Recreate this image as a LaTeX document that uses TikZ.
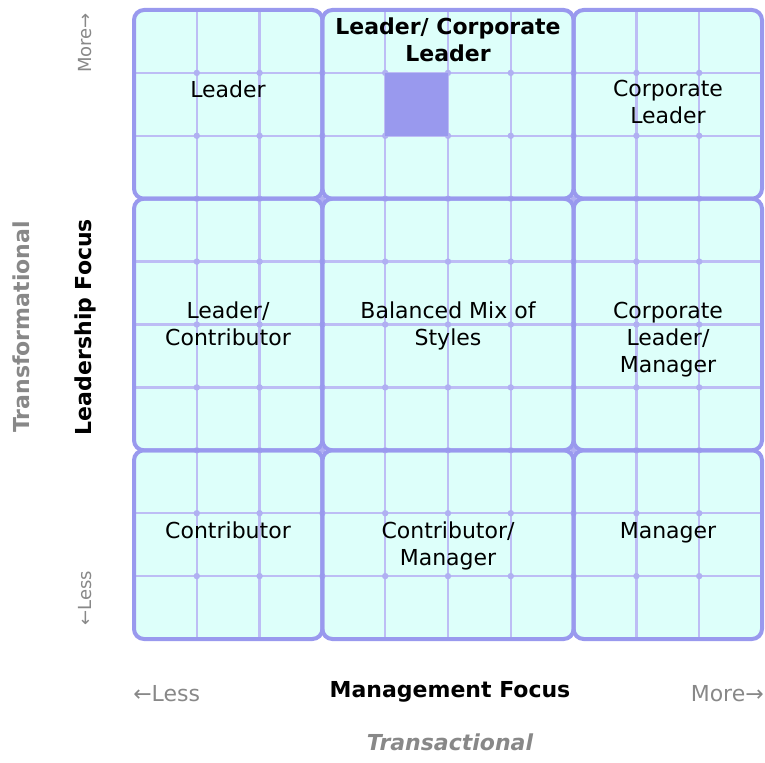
\documentclass[tikz,border=0pt]{standalone}
\usepackage{fontspec}
\setmainfont{DejaVu Sans}
\definecolor{cellfill}{HTML}{DDFFFA}
\definecolor{bordercol}{HTML}{9999EE}
\definecolor{thinline}{HTML}{BDBDF5}
\definecolor{dotcol}{HTML}{B0B0F2}
\definecolor{axisgrey}{HTML}{888888}
\begin{document}
\begin{tikzpicture}[x=0.75pt,y=-0.75pt,
  panelfill/.style={fill=cellfill, rounded corners=7.5pt},
  panelborder/.style={draw=bordercol, line width=3pt, rounded corners=7.5pt},
  gridline/.style={draw=thinline, line width=1.8pt},
  lbl/.style={anchor=north, inner sep=0pt, align=center, text=black,
    font=\fontsize{16.5}{20.25}\selectfont},
  axislbl/.style={inner sep=0pt, font=\fontsize{16.5}{20.25}\selectfont},
  vaxislbl/.style={inner sep=0pt, rotate=90, font=\fontsize{13.5}{16}\selectfont}]
\useasboundingbox (0,0) rectangle (765,763);
% panels fill
\foreach \a/\b in {0/3,3/7,7/10}{
  \foreach \c/\d in {0/3,3/7,7/10}{
    \fill[panelfill] ({134+\a*62.8},{10+\c*62.9}) rectangle ({134+\b*62.8},{10+\d*62.9});
  }}
% thin grid lines
\foreach \i in {1,2,4,5,6,8,9}{
  \draw[gridline] ({134+\i*62.8},10) -- ({134+\i*62.8},639);
  \draw[gridline] (134,{10+\i*62.9}) -- (762,{10+\i*62.9});
}
% dots at intersections
\foreach \i in {1,...,9}{
  \foreach \j in {1,...,9}{
    \fill[dotcol] ({134+\i*62.8},{10+\j*62.9}) circle (2.4pt);
  }}
% highlighted cell
\fill[bordercol] ({134+4*62.8},{10+1*62.9}) rectangle ({134+5*62.8},{10+2*62.9});
% panel borders
\foreach \a/\b in {0/3,3/7,7/10}{
  \foreach \c/\d in {0/3,3/7,7/10}{
    \draw[panelborder] ({134+\a*62.8},{10+\c*62.9}) rectangle ({134+\b*62.8},{10+\d*62.9});
  }}
% panel texts
\node[lbl] (tl) at (228,81) {Leader};
\node[lbl, font=\fontsize{16.5}{20.25}\selectfont\bfseries] (tc) at (448,18) {Leader/ Corporate\\Leader};
\node[lbl] (tr) at (668,80) {Corporate\\Leader};
\node[lbl] (ml) at (228,302) {Leader/\\Contributor};
\node[lbl] (mc) at (448,302) {Balanced Mix of\\Styles};
\node[lbl] (mr) at (668,302) {Corporate\\Leader/\\Manager};
\node[lbl] (bl) at (228,522) {Contributor};
\node[lbl] (bc) at (448,522) {Contributor/\\Manager};
\node[lbl] (br) at (668,522) {Manager};
% axis labels bottom
\node[axislbl, text=axisgrey, anchor=west] (xless) at (133,694) {←Less};
\node[axislbl, font=\fontsize{16.5}{20.25}\selectfont\bfseries] (xfocus) at (450,692) {Management Focus};
\node[axislbl, text=axisgrey, anchor=east] (xmore) at (764,694) {More→};
\node[axislbl, text=axisgrey, font=\fontsize{16.5}{20.25}\selectfont\bfseries\itshape] (xtrans) at (450,742) {Transactional};
% axis labels left
\node[vaxislbl, text=axisgrey, font=\fontsize{16.5}{20.25}\selectfont\bfseries] (ytrans) at (21,327) {Transformational};
\node[vaxislbl, font=\fontsize{16.5}{20.25}\selectfont\bfseries] (yfocus) at (85,327) {Leadership Focus};
\node[vaxislbl, text=axisgrey, anchor=east] (ymore) at (85,13) {More→};
\node[vaxislbl, text=axisgrey, anchor=west] (yless) at (85,626) {←Less};
\end{tikzpicture}
\end{document}
